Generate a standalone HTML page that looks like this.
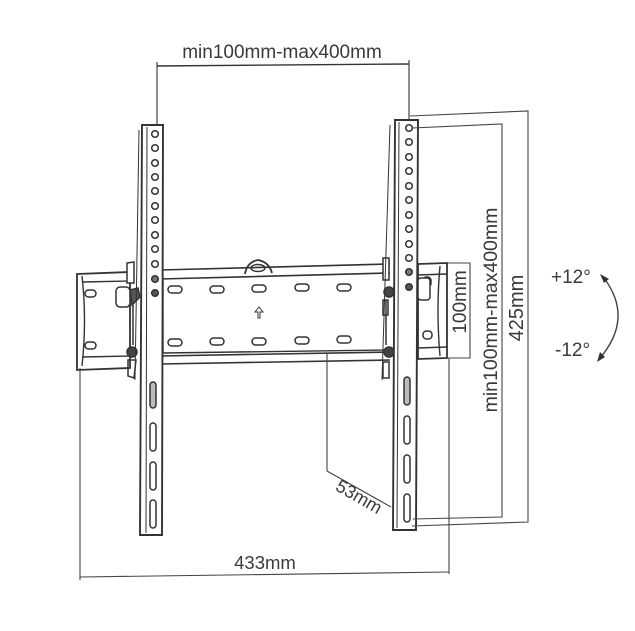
<!DOCTYPE html>
<html><head><meta charset="utf-8"><style>
html,body{margin:0;padding:0;background:#fff;}
svg{display:block}
text{font-family:"Liberation Sans","DejaVu Sans",sans-serif;fill:#3a3a3a;}
</style></head><body>
<svg width="635" height="631" viewBox="0 0 635 631" xmlns="http://www.w3.org/2000/svg">
<g fill="none" stroke="#333" stroke-width="1.4">
<line x1="157" y1="66" x2="409" y2="64"/>
<line x1="157" y1="62" x2="157" y2="126" stroke-width="1.1"/>
<line x1="409" y1="60" x2="409" y2="122" stroke-width="1.1"/>

<path d="M77 274 L130 272 L130 368 L77 370 Z" stroke-width="1.8"/>
<path d="M82 276 Q87 320 82 366" />
<line x1="82" y1="282" x2="130" y2="281"/>
<line x1="82" y1="357" x2="130" y2="356"/>
<path d="M418 264 L447 263 L447 358 L418 359 Z" stroke-width="1.8"/>
<line x1="418" y1="275" x2="447" y2="274"/>
<line x1="418" y1="348" x2="447" y2="347"/>
<path d="M440 266 Q436 310 440 356"/>

<path d="M160 270 L390 264 M160 279 L390 273" stroke-width="1.6"/>
<path d="M163 280 L163 353 M163 353 L385 350" />
<path d="M160 356 L390 352 M160 364 L390 360" stroke-width="1.6"/>
<path d="M245 274 Q247 262 258 260 Q269 262 272 273" stroke-width="1.8"/>
<ellipse cx="258" cy="268" rx="7" ry="3.5"/>
<path d="M258 318 L258 312 L255 312 L259 307 L263 312 L260 312 L260 318 Z" stroke-width="1"/>
</g>
<g fill="none" stroke="#333" stroke-width="1.5">
<rect x="168" y="286" width="14" height="7" rx="3.5"/>
<rect x="210" y="286" width="14" height="7" rx="3.5"/>
<rect x="252" y="285" width="14" height="7" rx="3.5"/>
<rect x="295" y="284" width="14" height="7" rx="3.5"/>
<rect x="337" y="284" width="14" height="7" rx="3.5"/>
<rect x="168" y="339" width="14" height="7" rx="3.5"/>
<rect x="210" y="338" width="14" height="7" rx="3.5"/>
<rect x="252" y="338" width="14" height="7" rx="3.5"/>
<rect x="295" y="337" width="14" height="7" rx="3.5"/>
<rect x="337" y="336" width="14" height="7" rx="3.5"/>
<rect x="85" y="290" width="11" height="7" rx="3.5"/>
<rect x="85" y="342" width="11" height="7" rx="3.5"/>
<rect x="423" y="331" width="9" height="8" rx="3.5"/>
<rect x="423" y="277" width="8" height="10" rx="3.5"/>

<path d="M127 263 L134 262 L134 283 L127 283 Z" fill="#fff"/>
<rect x="116" y="287" width="14" height="20" rx="4" fill="#fff"/>
<path d="M130 290 L138 288 L140 297 L132 305 Z" fill="#555"/>
<line x1="133" y1="305" x2="133" y2="345"/>
<circle cx="132" cy="352" r="5" fill="#444"/>
<path d="M128 360 L136 360 L134 378 L128 376 Z"/>
<path d="M383 258 L389 258 L389 280 L383 280 Z" fill="#fff"/>
<circle cx="389" cy="292" r="5" fill="#444"/>
<path d="M383 300 L388 300 L388 315 L383 315 Z"/>
<line x1="386" y1="300" x2="386" y2="345"/>
<circle cx="389" cy="352" r="5" fill="#444"/>
<path d="M383 362 L389 362 L389 378 L383 378 Z"/>
<rect x="418" y="278" width="12" height="22" rx="3" fill="#fff"/>

<path d="M142 125 L163 125 L162 535 L140 535 Z" fill="#fff" stroke-width="1.9"/>
<path d="M147 127 L146 533" stroke-width="1"/>
<path d="M395 120 L418 120 L416 530 L393 530 Z" fill="#fff" stroke-width="1.9"/>
<path d="M399 122 L397 528" stroke-width="1"/>
<path d="M390 125 L382 380" stroke-width="1"/>
<path d="M139 130 L135 380" stroke-width="1"/>
</g>
<g fill="none" stroke="#333" stroke-width="1.5">
<circle cx="155" cy="134" r="3.3"/><circle cx="155" cy="148" r="3.3"/><circle cx="155" cy="163" r="3.3"/>
<circle cx="155" cy="177" r="3.3"/><circle cx="155" cy="191" r="3.3"/><circle cx="155" cy="206" r="3.3"/>
<circle cx="155" cy="220" r="3.3"/><circle cx="155" cy="235" r="3.3"/><circle cx="155" cy="249" r="3.3"/>
<circle cx="155" cy="264" r="3.3"/><circle cx="155" cy="279" r="3.3" fill="#777"/><circle cx="155" cy="293" r="3.3" fill="#555"/>
<rect x="150" y="382" width="6" height="26" rx="3" fill="#bbb"/>
<rect x="150" y="423" width="6" height="28" rx="3"/>
<rect x="150" y="462" width="6" height="28" rx="3"/>
<rect x="150" y="500" width="6" height="28" rx="3"/>
<circle cx="409" cy="128" r="3.3"/><circle cx="409" cy="142" r="3.3"/><circle cx="409" cy="157" r="3.3"/>
<circle cx="409" cy="171" r="3.3"/><circle cx="409" cy="186" r="3.3"/><circle cx="409" cy="200" r="3.3"/>
<circle cx="409" cy="215" r="3.3"/><circle cx="409" cy="229" r="3.3"/><circle cx="409" cy="244" r="3.3"/>
<circle cx="409" cy="258" r="3.3"/><circle cx="409" cy="272" r="3.3" fill="#777"/><circle cx="409" cy="287" r="3.3" fill="#555"/>
<rect x="404" y="377" width="6" height="28" rx="3" fill="#bbb"/>
<rect x="404" y="416" width="6" height="28" rx="3"/>
<rect x="404" y="455" width="6" height="28" rx="3"/>
<rect x="404" y="494" width="6" height="28" rx="3"/>
</g>
<g fill="none" stroke="#444" stroke-width="1.1">
<path d="M447 263 L470 263 L470 358 L447 358"/>
<path d="M412 128 L502 124 L502 517 L413 519"/>
<path d="M410 116 L528 111 L528 522 L412 526"/>
<line x1="80" y1="368" x2="80" y2="580"/>
<line x1="449" y1="358" x2="449" y2="574"/>
<line x1="80" y1="577" x2="449" y2="572"/>
<line x1="327" y1="354" x2="327" y2="471"/>
<line x1="327" y1="471" x2="391" y2="507"/>
<path d="M604 278 Q634 318 600 358" stroke-width="1.4"/>
</g>
<path d="M600 274 L609 279 L604 283 Z" fill="#333"/>
<path d="M597 362 L600 352 L605 357 Z" fill="#333"/>

<text x="282" y="58" font-size="19" text-anchor="middle">min100mm-max400mm</text>
<text x="265" y="569" font-size="18.5" text-anchor="middle">433mm</text>
<text transform="translate(356,502) rotate(30)" font-size="18" text-anchor="middle">53mm</text>
<text transform="translate(466,302) rotate(-90)" font-size="19" text-anchor="middle">100mm</text>
<text transform="translate(497,310) rotate(-90)" font-size="19.5" text-anchor="middle">min100mm-max400mm</text>
<text transform="translate(523,308) rotate(-90)" font-size="20" text-anchor="middle">425mm</text>
<text x="551" y="283" font-size="19">+12°</text>
<text x="555" y="356" font-size="19">-12°</text>
</svg>
</body></html>
